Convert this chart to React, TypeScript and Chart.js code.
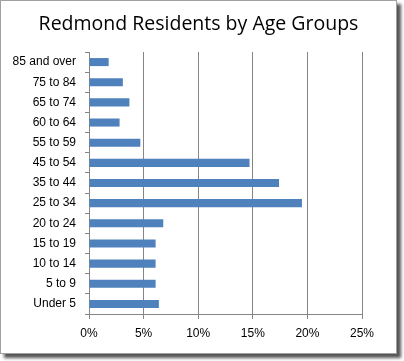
import React, { useEffect, useRef } from "react";
import { Chart, registerables } from "chart.js";

Chart.register(...registerables);

const categories = [
  "85 and over",
  "75 to 84",
  "65 to 74",
  "60 to 64",
  "55 to 59",
  "45 to 54",
  "35 to 44",
  "25 to 34",
  "20 to 24",
  "15 to 19",
  "10 to 14",
  "5 to 9",
  "Under 5",
];
const shares = [1.8, 3.1, 3.7, 2.8, 4.7, 14.7, 17.4, 19.5, 6.8, 6.1, 6.1, 6.1, 6.4];
const xTicks = [0, 5, 10, 15, 20, 25];
const titleText = "Redmond Residents by Age Groups";

export default function App() {
  const ref = useRef<HTMLCanvasElement | null>(null);
  useEffect(() => {
    if (!ref.current) return;
    const gridColor = "#868686";
    const chart = new Chart(ref.current, {
      type: "bar",
      data: {
        labels: categories,
        datasets: [
          {
            data: shares,
            backgroundColor: "#4F81BD",
            borderWidth: 0,
            barPercentage: 0.4,
            categoryPercentage: 1,
          },
        ],
      },
      options: {
        indexAxis: "y",
        animation: false,
        responsive: false,
        devicePixelRatio: 1,
        layout: { padding: { left: 0, right: 34, top: 51, bottom: 0 } },
        plugins: {
          legend: { display: false },
          tooltip: { enabled: false },
          title: { display: false },
        },
        scales: {
          x: {
            min: 0,
            max: 25,
            afterBuildTicks: (s: any) => {
              s.ticks = xTicks.map((v) => ({ value: v }));
            },
            afterFit: (s: any) => {
              s.height = 39;
            },
            grid: {
              color: gridColor,
              lineWidth: 1,
              drawTicks: true,
              tickLength: 5,
              tickColor: gridColor,
            },
            border: { display: true, color: gridColor, width: 1 },
            ticks: {
              color: "#000",
              padding: 7,
              font: { family: "Liberation Sans", size: 12 },
              callback: (v: any) => v + "%",
              maxRotation: 0,
            },
          },
          y: {
            afterFit: (s: any) => {
              s.width = 88;
            },
            grid: {
              offset: true,
              drawOnChartArea: false,
              drawTicks: true,
              tickLength: 4,
              tickColor: gridColor,
            },
            border: { display: true, color: gridColor, width: 1 },
            ticks: {
              color: "#000",
              padding: 9,
              font: { family: "Liberation Sans", size: 12 },
              autoSkip: false,
            },
          },
        },
      },
    });
    return () => chart.destroy();
  }, []);

  return (
    <div
      style={{
        position: "fixed",
        left: 0,
        top: 0,
        width: 397,
        height: 354,
        boxSizing: "border-box",
        border: "1px solid #a0a0a0",
        background: "#fff",
        boxShadow: "4px 4px 3px #555",
      }}
    >
      <div
        style={{
          position: "absolute",
          left: 0,
          top: 8,
          width: 395,
          textAlign: "center",
          fontFamily: "Open Sans",
          fontSize: 19.5,
          lineHeight: "28px",
          color: "#000",
        }}
      >
        {titleText}
      </div>
      <canvas
        ref={ref}
        width={395}
        height={352}
        style={{ display: "block", width: 395, height: 352 }}
      />
    </div>
  );
}
